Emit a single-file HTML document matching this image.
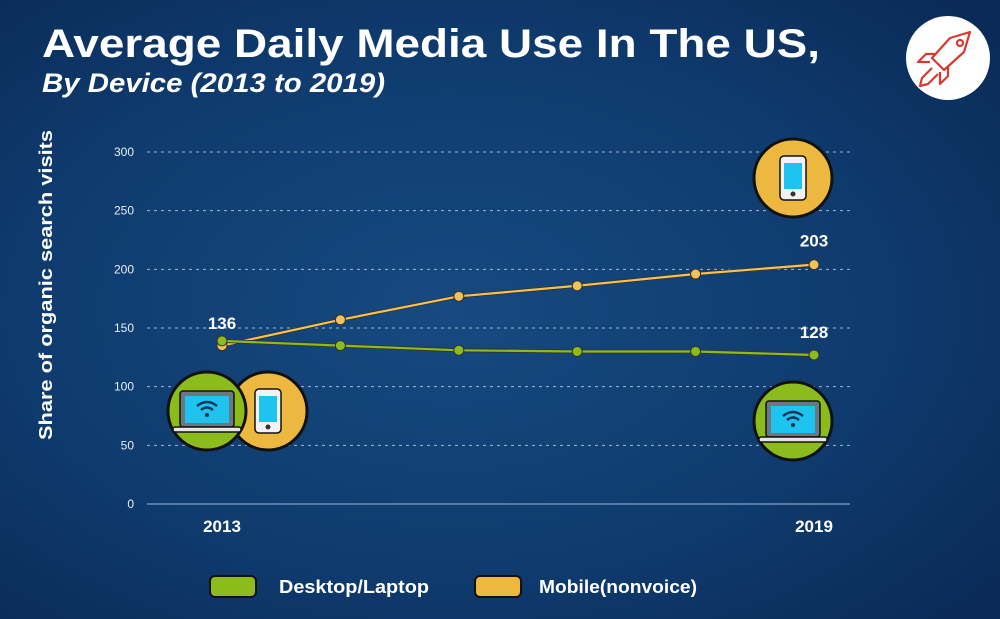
<!DOCTYPE html>
<html><head><meta charset="utf-8">
<style>
html,body{margin:0;padding:0;width:1000px;height:619px;overflow:hidden;background:#0b2d5c;}
svg{display:block;font-family:"Liberation Sans",sans-serif;}
</style></head>
<body>
<svg id="chart" width="1000" height="619" viewBox="0 0 1000 619">
<defs>
<radialGradient id="bg" cx="0.45" cy="0.5" r="0.7">
<stop offset="0" stop-color="#164a80"/>
<stop offset="0.6" stop-color="#0f3b6e"/>
<stop offset="1" stop-color="#0a2b58"/>
</radialGradient>
</defs>
<rect width="1000" height="619" fill="url(#bg)"/>
<text x="42" y="57" font-size="40" font-weight="bold" fill="#fff" textLength="778" lengthAdjust="spacingAndGlyphs">Average Daily Media Use In The US,</text>
<text x="42" y="92" font-size="27" font-weight="bold" font-style="italic" fill="#fff" textLength="343" lengthAdjust="spacingAndGlyphs">By Device (2013 to 2019)</text>
<g>
<circle cx="948" cy="58" r="42" fill="#fff"/>
<g fill="none" stroke="#d63a2f" stroke-width="2.2" stroke-linejoin="round">
<path d="M970 32 L950 38 L932 58 L944 70 L964 52 Z"/>
<circle cx="960" cy="43" r="3"/>
<path d="M936 54 L926 54 L918 62 L930 62"/>
<path d="M948 66 L948 76 L940 84 L940 72"/>
<path d="M932 68 L922 78 L920 86 L928 84 L938 74"/>
</g>
</g>
<text transform="translate(52,285) rotate(-90)" text-anchor="middle" font-size="18" font-weight="bold" fill="#fff" textLength="310" lengthAdjust="spacingAndGlyphs">Share of organic search visits</text>
<g id="grid"></g>
<g id="icons"></g>
<g id="series"></g>
<g>
<g>
<rect x="210" y="576" width="46" height="21" rx="5" fill="#8cbc1b" stroke="#111" stroke-width="2"/>
<text x="279" y="593" font-size="18" font-weight="bold" fill="#fff" textLength="150" lengthAdjust="spacingAndGlyphs">Desktop/Laptop</text>
</g>
<g>
<rect x="475" y="576" width="46" height="21" rx="5" fill="#edb840" stroke="#111" stroke-width="2"/>
<text x="539" y="593" font-size="18" font-weight="bold" fill="#fff" textLength="158" lengthAdjust="spacingAndGlyphs">Mobile(nonvoice)</text>
</g>
</g>
</svg>
<script>
const years = [2013, 2014, 2015, 2016, 2017, 2018];
const xLabels = ["2013", "", "", "", "", "2019"];
const desktopValues = [139, 135, 131, 130, 130, 127];
const mobileValues = [135, 157, 177, 186, 196, 204];
const yTicks = [0, 50, 100, 150, 200, 250, 300];
const desktopLabel = "136";
const mobileLabel = "203";
const desktopEndLabel = "128";

const NS = "http://www.w3.org/2000/svg";
const x0 = 222, x1 = 814, yBase = 504, yTop = 152, yMax = 300;
function xScale(i){ return x0 + (x1 - x0) * i / (years.length - 1); }
function yScale(v){ return yBase - (yBase - yTop) * v / yMax; }
function mk(tag, attrs, parent){ const e = document.createElementNS(NS, tag); for (const k in attrs) e.setAttribute(k, attrs[k]); parent.appendChild(e); return e; }

const grid = document.getElementById('grid');
yTicks.forEach(t => {
  const y = yScale(t);
  const l = mk('line', {x1:147, x2:850, y1:y, y2:y, stroke: t===0 ? '#6f8fb8' : '#9fb6d3', 'stroke-width': t===0?1.5:1, 'stroke-dasharray': t===0?'none':'3 4'}, grid);
  
  
  const tx = mk('text', {x:134, y:y+4, 'text-anchor':'end', 'font-size':12, fill:'#e8eef6'}, grid);
  tx.textContent = t;
  
  
});
xLabels.forEach((lab, i) => {
  if (!lab) return;
  const tx = mk('text', {x:xScale(i), y:532, 'text-anchor':'middle', 'font-size':17, 'font-weight':'bold', fill:'#fff'}, grid);
  tx.textContent = lab;
  
  
});

const icons = document.getElementById('icons');
function laptop(cx, cy, name){
  const g = mk('g', {}, icons);
  
  
  mk('circle', {cx, cy, r:39, fill:'#8cbc1b', stroke:'#111', 'stroke-width':3}, g);
  mk('rect', {x:cx-27, y:cy-20, width:54, height:36, rx:3, fill:'#6b7782', stroke:'#111', 'stroke-width':1.5}, g);
  mk('rect', {x:cx-22, y:cy-15, width:44, height:27, fill:'#1ec3ef'}, g);
  mk('rect', {x:cx-34, y:cy+16, width:68, height:5, rx:2, fill:'#e6e6e6', stroke:'#111', 'stroke-width':1.5}, g);
  mk('path', {d:`M${cx-10} ${cy-5} Q${cx} ${cy-13} ${cx+10} ${cy-5} M${cx-6} ${cy-1} Q${cx} ${cy-6} ${cx+6} ${cy-1}`, fill:'none', stroke:'#0b3552', 'stroke-width':2.5}, g);
  mk('circle', {cx, cy:cy+4, r:2, fill:'#0b3552'}, g);
}
function phone(cx, cy, name){
  const g = mk('g', {}, icons);
  
  
  mk('circle', {cx, cy, r:39, fill:'#edb840', stroke:'#111', 'stroke-width':3}, g);
  mk('rect', {x:cx-13, y:cy-22, width:26, height:44, rx:4, fill:'#f2f2f2', stroke:'#111', 'stroke-width':1.5}, g);
  mk('rect', {x:cx-9, y:cy-15, width:18, height:26, fill:'#1ec3ef'}, g);
  mk('circle', {cx, cy:cy+16, r:2.5, fill:'#333'}, g);
}
phone(268, 411, 'mobile-icon-2013');
laptop(207, 411, 'desktop-icon-2013');
phone(793, 178, 'mobile-icon-2019');
laptop(793, 421, 'desktop-icon-2019');

const series = document.getElementById('series');
function drawLine(vals, color, name){
  const pts = vals.map((v,i) => xScale(i) + ',' + yScale(v)).join(' ');
  const pl = mk('polyline', {points:pts, fill:'none', stroke:'#333', 'stroke-width':4}, series);
  
  
  const p = mk('polyline', {points:pts, fill:'none', stroke:color, 'stroke-width':2.2}, series);
  
  
  vals.forEach((v,i) => {
    const c = mk('circle', {cx:xScale(i), cy:yScale(v), r:5, fill:color, stroke:'#333', 'stroke-width':1}, series);
    
    
  });
}
drawLine(mobileValues, '#efc25c', 'mobile');
drawLine(desktopValues, '#8cbc1b', 'desktop');
function label(txt, x, y, name){
  const t = mk('text', {x, y, 'text-anchor':'middle', 'font-size':17, 'font-weight':'bold', fill:'#fff'}, series);
  t.textContent = txt;
  
  
}
label(desktopLabel, xScale(0), yScale(desktopValues[0]) - 12, 'value-label-2013');
label(mobileLabel, xScale(5), yScale(mobileValues[5]) - 18, 'value-label-mobile-2019');
label(desktopEndLabel, xScale(5), yScale(desktopValues[5]) - 17, 'value-label-desktop-2019');
</script>
</body></html>
